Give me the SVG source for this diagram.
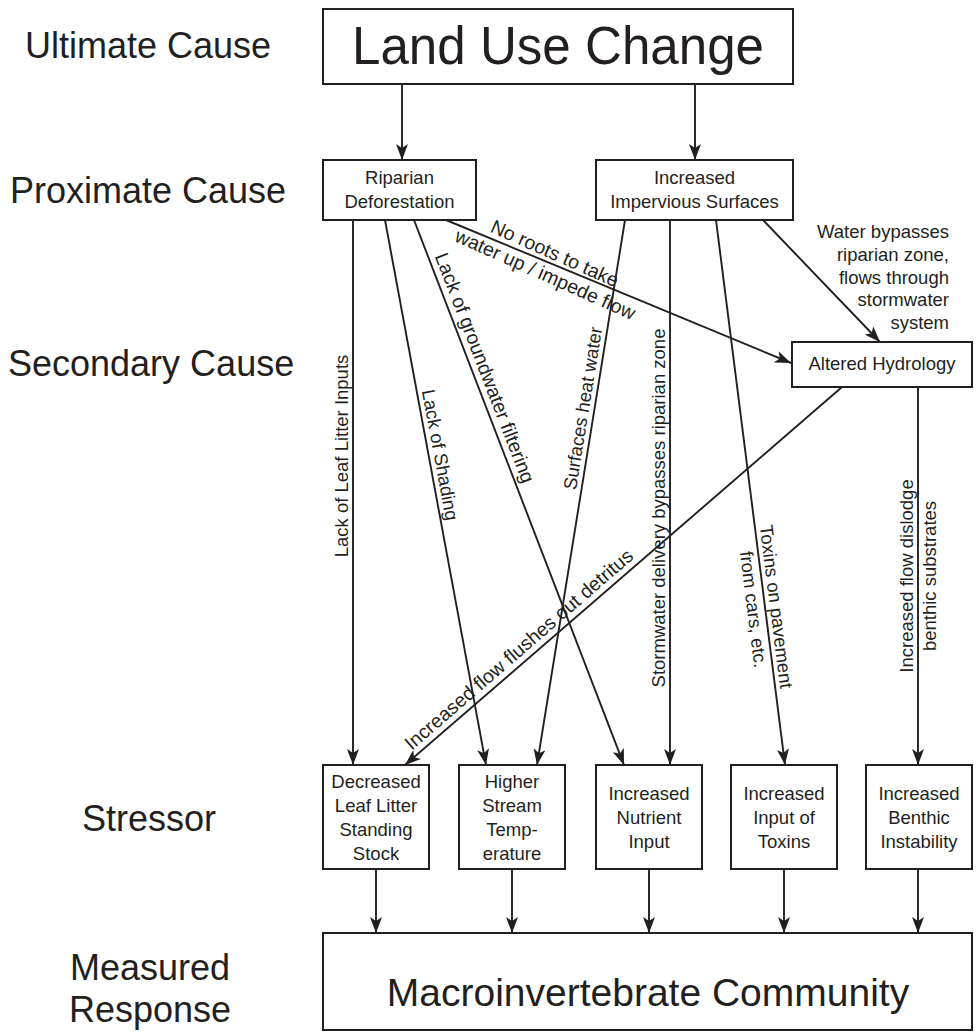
<svg xmlns="http://www.w3.org/2000/svg" width="980" height="1036" viewBox="0 0 980 1036">
<defs>
<style>
text{font-family:"Liberation Sans",Arial,sans-serif;fill:#231f20;}
.lvl{font-size:36px;}
.bx{font-size:18.5px;text-anchor:middle;}
.lb{font-size:18.5px;text-anchor:middle;}
.lbl{font-size:19.5px;text-anchor:middle;}
.box{fill:#fff;stroke:#231f20;stroke-width:2;}
.c{stroke:#231f20;stroke-width:1.9;fill:none;marker-end:url(#ah);}
</style>
<marker id="ah" markerUnits="userSpaceOnUse" markerWidth="16" markerHeight="12" refX="16" refY="6" orient="auto">
<path d="M0,0 L16,6 L0,12 L4,6 z" fill="#231f20"/>
</marker>
</defs>
<rect width="980" height="1036" fill="#fff"/>

<g id="levels">
<text class="lvl" x="25" y="58">Ultimate Cause</text>
<text class="lvl" x="10" y="203">Proximate Cause</text>
<text class="lvl" x="8" y="376">Secondary Cause</text>
<text class="lvl" x="82" y="831">Stressor</text>
<text class="lvl" x="150" y="980" text-anchor="middle">Measured</text>
<text class="lvl" x="150" y="1022" text-anchor="middle">Response</text>
</g>

<g id="connectors">
<line class="c" x1="402" y1="84" x2="402" y2="160"/>
<line class="c" x1="695" y1="84" x2="695" y2="160"/>

<line class="c" x1="353" y1="220" x2="353" y2="765"/>
<text class="lb" transform="translate(353,456) rotate(-90)" y="-5">Lack of Leaf Litter Inputs</text>

<line class="c" x1="385" y1="220" x2="486" y2="765"/>
<text class="lb" transform="translate(429,457) rotate(79.5)" y="-5">Lack of Shading</text>

<line class="c" x1="414" y1="220" x2="624" y2="765"/>
<text class="lbl" transform="translate(474,372) rotate(68.9)" y="-5">Lack of groundwater filtering</text>

<line class="c" x1="446" y1="220" x2="791" y2="363"/>
<text class="lbl" transform="translate(550,264) rotate(24)"><tspan x="0" y="-5">No roots to take</tspan><tspan x="0" y="18">water up / impede flow</tspan></text>

<line class="c" x1="625" y1="220" x2="537" y2="765"/>
<text class="lb" transform="translate(594,410) rotate(-80.8)" y="-5">Surfaces heat water</text>

<line class="c" x1="670" y1="220" x2="670" y2="765"/>
<text class="lb" transform="translate(670,508) rotate(-90)" y="-5">Stormwater delivery bypasses riparian zone</text>

<line class="c" x1="716" y1="220" x2="785" y2="765"/>
<text class="lb" transform="translate(765,608) rotate(82.8)"><tspan x="0" y="-5">Toxins on pavement</tspan><tspan x="0" y="18">from cars, etc.</tspan></text>

<line class="c" x1="763" y1="220" x2="880" y2="342"/>
<text class="lb" style="text-anchor:end"><tspan x="949" y="238">Water bypasses</tspan><tspan x="949" y="261">riparian zone,</tspan><tspan x="949" y="284">flows through</tspan><tspan x="949" y="306">stormwater</tspan><tspan x="949" y="329">system</tspan></text>

<line class="c" x1="842" y1="387" x2="405" y2="765"/>
<text class="lbl" transform="translate(527,659) rotate(-40.9)" y="-6">Increased flow flushes out detritus</text>

<line class="c" x1="918" y1="387" x2="918" y2="765"/>
<text class="lb" transform="translate(918,576) rotate(-90)"><tspan x="0" y="-5">Increased flow dislodge</tspan><tspan x="0" y="18">benthic substrates</tspan></text>

<line class="c" x1="376" y1="869" x2="376" y2="933"/>
<line class="c" x1="512" y1="869" x2="512" y2="933"/>
<line class="c" x1="649" y1="869" x2="649" y2="933"/>
<line class="c" x1="784" y1="869" x2="784" y2="933"/>
<line class="c" x1="918" y1="869" x2="918" y2="933"/>
</g>

<g id="land-use-change">
<rect class="box" x="323" y="9" width="470" height="75"/>
<text x="558" y="64" font-size="54" text-anchor="middle" textLength="412" lengthAdjust="spacingAndGlyphs">Land Use Change</text>
</g>

<g id="riparian-deforestation">
<rect class="box" x="323" y="160" width="153" height="60"/>
<text class="bx"><tspan x="399.5" y="184">Riparian</tspan><tspan x="399.5" y="208">Deforestation</tspan></text>
</g>

<g id="impervious-surfaces">
<rect class="box" x="596" y="160" width="197" height="60"/>
<text class="bx"><tspan x="694.5" y="184">Increased</tspan><tspan x="694.5" y="208">Impervious Surfaces</tspan></text>
</g>

<g id="altered-hydrology">
<rect class="box" x="792" y="342" width="180" height="45"/>
<text class="bx" x="882" y="370">Altered Hydrology</text>
</g>

<g id="leaf-litter">
<rect class="box" x="323" y="765" width="106" height="104"/>
<text class="bx"><tspan x="376" y="788">Decreased</tspan><tspan x="376" y="812">Leaf Litter</tspan><tspan x="376" y="836">Standing</tspan><tspan x="376" y="860">Stock</tspan></text>
</g>

<g id="stream-temperature">
<rect class="box" x="459" y="765" width="106" height="104"/>
<text class="bx"><tspan x="512" y="788">Higher</tspan><tspan x="512" y="812">Stream</tspan><tspan x="512" y="836">Temp-</tspan><tspan x="512" y="860">erature</tspan></text>
</g>

<g id="nutrient-input">
<rect class="box" x="596" y="765" width="106" height="104"/>
<text class="bx"><tspan x="649" y="800">Increased</tspan><tspan x="649" y="824">Nutrient</tspan><tspan x="649" y="848">Input</tspan></text>
</g>

<g id="toxins">
<rect class="box" x="731" y="765" width="106" height="104"/>
<text class="bx"><tspan x="784" y="800">Increased</tspan><tspan x="784" y="824">Input of</tspan><tspan x="784" y="848">Toxins</tspan></text>
</g>

<g id="benthic-instability">
<rect class="box" x="866" y="765" width="106" height="104"/>
<text class="bx"><tspan x="919" y="800">Increased</tspan><tspan x="919" y="824">Benthic</tspan><tspan x="919" y="848">Instability</tspan></text>
</g>

<g id="macroinvertebrate-community">
<rect class="box" x="323" y="933" width="649" height="97"/>
<text x="648" y="1006" font-size="39" text-anchor="middle">Macroinvertebrate Community</text>
</g>
</svg>
